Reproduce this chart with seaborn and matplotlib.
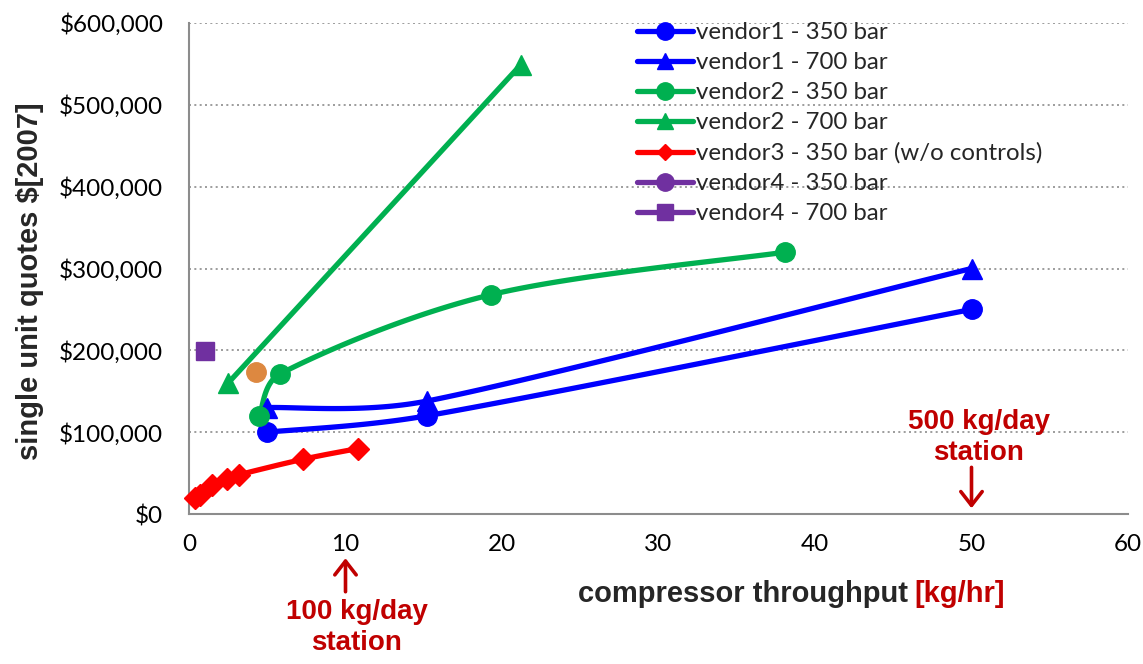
import numpy as np
import pandas as pd
import matplotlib
matplotlib.use("Agg")
import matplotlib.pyplot as plt
import seaborn as sns
from matplotlib.lines import Line2D

# ---------------- data ----------------
v1_350_x = [5.0, 15.2, 50.0]
v1_350_y = [100000, 120000, 250000]
v1_700_x = [5.0, 15.2, 50.0]
v1_700_y = [130000, 138000, 300000]
v2_350_x = [4.5, 5.8, 19.3, 38.1]
v2_350_y = [120000, 171000, 268000, 320000]
v2_700_x = [2.5, 21.2]
v2_700_y = [160000, 549000]
v3_350_x = [0.4, 0.7, 1.5, 2.4, 3.2, 7.3, 10.8]
v3_350_y = [20000, 23000, 35000, 43000, 48000, 67000, 80000]
v4_350_x = [4.3]
v4_350_y = [174000]
v4_700_x = [1.0]
v4_700_y = [199000]

labels = ["vendor1 - 350 bar", "vendor1 - 700 bar", "vendor2 - 350 bar",
          "vendor2 - 700 bar", "vendor3 - 350 bar (w/o controls)",
          "vendor4 - 350 bar", "vendor4 - 700 bar"]

y_ticks = [0, 100000, 200000, 300000, 400000, 500000, 600000]
x_ticks = [0, 10, 20, 30, 40, 50, 60]

BLUE = "#0000FF"
GREEN = "#00B050"
RED = "#FF0000"
PURPLE = "#7030A0"
ORANGE = "#DD8840"
DARKRED = "#C00000"

series = [
    (labels[0], v1_350_x, v1_350_y, BLUE, "o", 14),
    (labels[1], v1_700_x, v1_700_y, BLUE, "^", 14),
    (labels[2], v2_350_x, v2_350_y, GREEN, "o", 14),
    (labels[3], v2_700_x, v2_700_y, GREEN, "^", 14),
    (labels[4], v3_350_x, v3_350_y, RED, "D", 11),
    (labels[5], v4_350_x, v4_350_y, ORANGE, "o", 14),
    (labels[6], v4_700_x, v4_700_y, PURPLE, "s", 13),
]
legend_colors = [BLUE, BLUE, GREEN, GREEN, RED, PURPLE, PURPLE]
legend_sizes = [12.5, 11, 12.5, 11, 8.5, 12.5, 12]

# ---------------- style ----------------
sns.set_theme(style="white")
plt.rcParams["font.family"] = ["Lato", "DejaVu Sans"]

fig = plt.figure(figsize=(11.43, 6.64), dpi=100)
ax = fig.add_axes([189 / 1143, 1 - 514 / 664, (1128 - 189) / 1143, (514 - 23) / 664])
ax.set_xlim(0, 60)
ax.set_ylim(0, 600000)


def smooth(xs, ys, n=40, clamp=0.4):
    """Excel-like smoothed Bezier curve computed in display space."""
    P = ax.transData.transform(np.column_stack([xs, ys]))
    m = len(P)
    if m < 3:
        return np.asarray(xs, float), np.asarray(ys, float)
    segs = []
    t = np.linspace(0, 1, n)[:, None]
    for i in range(m - 1):
        p0 = P[i - 1] if i > 0 else P[i]
        p1, p2 = P[i], P[i + 1]
        p3 = P[i + 2] if i + 2 < m else P[i + 1]
        L = np.hypot(*(p2 - p1))
        d1 = (p2 - p0) / 6
        d2 = (p3 - p1) / 6
        for d in (d1, d2):
            n_ = np.hypot(*d)
            if n_ > clamp * L:
                d *= clamp * L / n_
        c1 = p1 + d1
        c2 = p2 - d2
        segs.append((1 - t) ** 3 * p1 + 3 * (1 - t) ** 2 * t * c1
                    + 3 * (1 - t) * t ** 2 * c2 + t ** 3 * p2)
    C = ax.transData.inverted().transform(np.vstack(segs))
    return C[:, 0], C[:, 1]


# gridlines
for yv in y_ticks[1:]:
    ax.axhline(yv, color="#8C8C8C", lw=1.2, ls=(0, (1.2, 2)), zorder=0)

LW = 3.8
for name, xs, ys, col, mk, ms in series:
    sx, sy = smooth(xs, ys)
    df = pd.DataFrame({"x": sx, "y": sy})
    if len(xs) > 1:
        sns.lineplot(data=df, x="x", y="y", sort=False, estimator=None,
                     color=col, lw=LW, ax=ax, legend=False, zorder=3)
    ax.plot(xs, ys, ls="none", marker=mk, ms=ms, color=col,
            markeredgecolor=col, zorder=4, clip_on=False)

ax.set_xlim(0, 60)
ax.set_ylim(0, 600000)
ax.set_xticks(x_ticks)
ax.set_yticks(y_ticks)
ax.set_xticklabels([str(v) for v in x_ticks])
ax.set_yticklabels(["${:,}".format(v) for v in y_ticks])
ax.tick_params(axis="both", direction="out", length=6.5, width=1.2,
               color="#8C8C8C", labelsize=17.5, labelcolor="black")
ax.tick_params(axis="y", pad=12)
ax.tick_params(axis="x", pad=8)
for s in ["top", "right"]:
    ax.spines[s].set_visible(False)
for s in ["left", "bottom"]:
    ax.spines[s].set_color("#8C8C8C")
    ax.spines[s].set_linewidth(1.5)
ax.set_xlabel("")
ax.set_ylabel("")

BOLD = dict(fontweight="bold", family="Liberation Sans")

# axis titles
fig.text(30 / 1143, 1 - 281 / 664, "single unit quotes $[2007]", rotation=90,
         ha="center", va="center", fontsize=21, **BOLD)
unit = fig.text(1005 / 1143, 1 - 594 / 664, "[kg/hr]", ha="right", va="center",
                fontsize=21, color=DARKRED, **BOLD)
renderer = fig.canvas.get_renderer()
bb = unit.get_window_extent(renderer)
fig.text((bb.x0 - 7) / 1143, 1 - 594 / 664, "compressor throughput", ha="right",
         va="center", fontsize=21, **BOLD)

# station annotations
arrow_kw = dict(arrowstyle="->,head_length=0.45,head_width=0.35", color=DARKRED,
                lw=2.6, mutation_scale=22, shrinkA=0, shrinkB=0)
ax.annotate("", xy=(50, 7000), xytext=(50, 57000), arrowprops=arrow_kw)
ax.text(50.45, 93500, "500 kg/day\nstation", ha="center", va="center",
        fontsize=20, color=DARKRED, linespacing=1.25, **BOLD)
ax.annotate("", xy=(10, -54000), xytext=(10, -95000), arrowprops=arrow_kw,
            annotation_clip=False)
ax.text(10.7, -138500, "100 kg/day\nstation", ha="center", va="center",
        fontsize=20, color=DARKRED, linespacing=1.25, clip_on=False, **BOLD)

# legend
handles = []
for (name, xs, ys, col, mk, ms), lc, lms in zip(series, legend_colors, legend_sizes):
    handles.append(Line2D([], [], color=lc, lw=LW, marker=mk, ms=lms,
                          markeredgecolor=lc))
leg = fig.legend(handles, labels, loc="upper left",
                 bbox_to_anchor=(637 / 1143, 1 - 22 / 664), frameon=False,
                 fontsize=17.3, handlelength=2.35, handletextpad=0.1,
                 labelspacing=0.38, borderaxespad=0, borderpad=0)

fig.savefig("out.png", dpi=100)
